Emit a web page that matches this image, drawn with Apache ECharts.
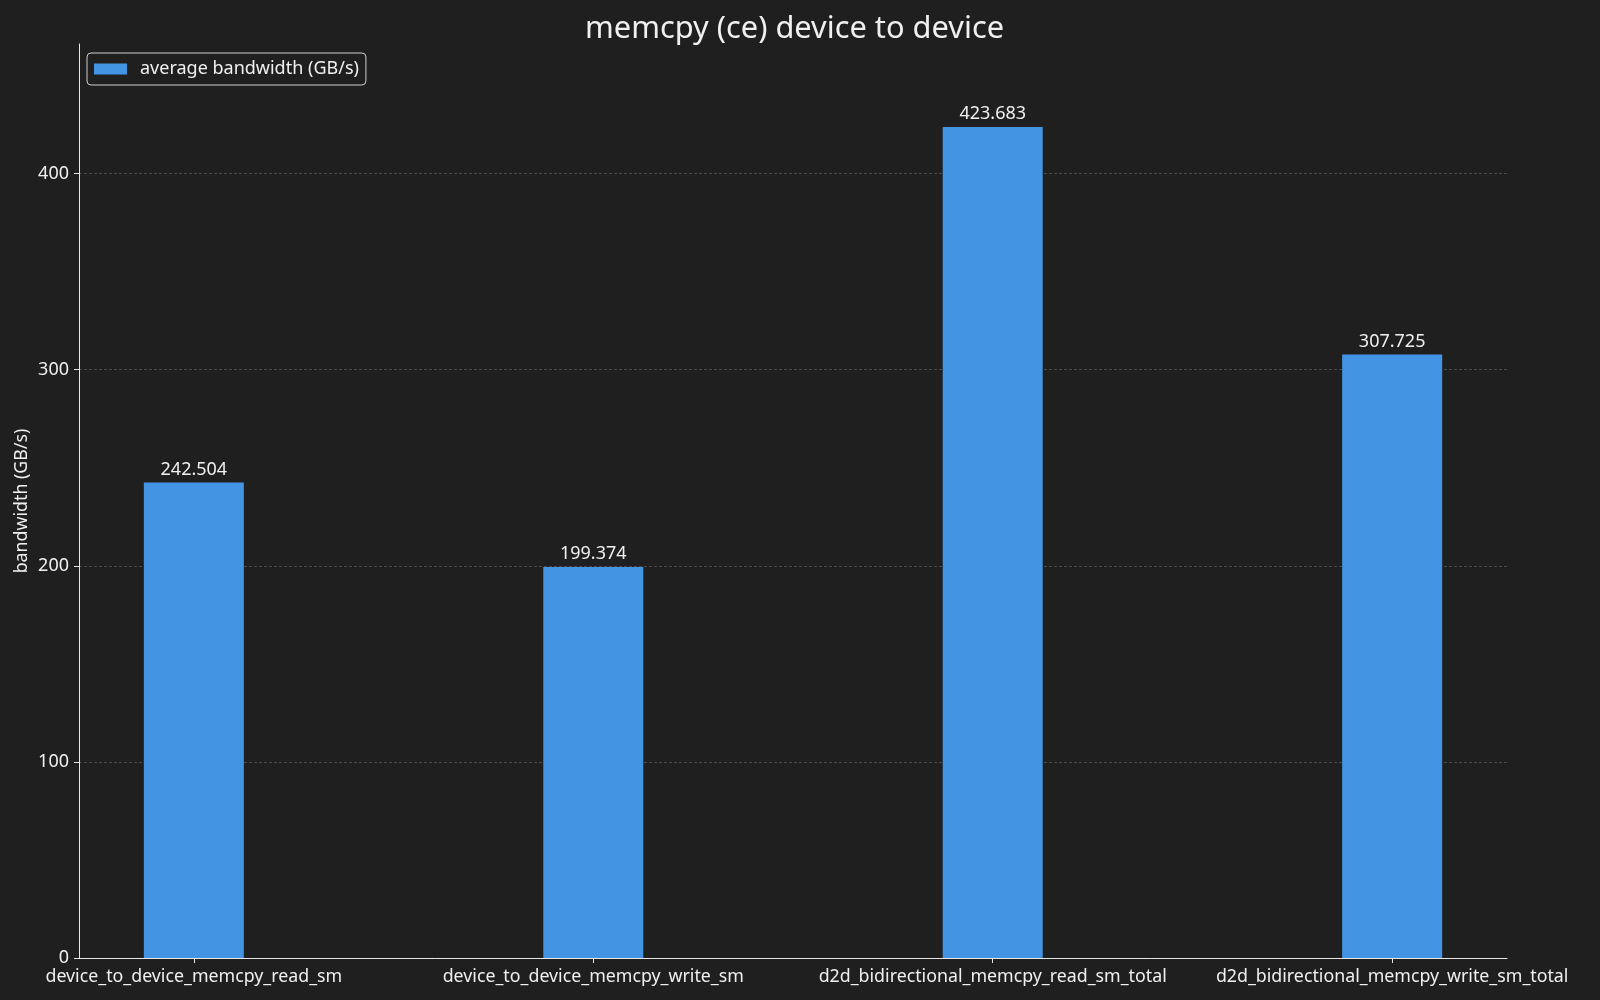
<!DOCTYPE html>
<html>
<head>
<meta charset="utf-8">
<script src="https://cdn.jsdelivr.net/npm/echarts@6/dist/echarts.min.js"></script>
<style>
html,body{margin:0;padding:0;background:#1f1f1f;}
#chart{width:1600px;height:1000px;}
</style>
</head>
<body>
<div id="chart"></div>
<script>
const categories = [
  "device_to_device_memcpy_read_sm",
  "device_to_device_memcpy_write_sm",
  "d2d_bidirectional_memcpy_read_sm_total",
  "d2d_bidirectional_memcpy_write_sm_total"
];
const bandwidth = [242.504, 199.374, 423.683, 307.725];
const yTicks = [0, 100, 200, 300, 400];
const xPositions = [0, 1, 2, 3];

const FONT = "Noto Sans";
const TXT = "#f0f0f0";
const yMax = Math.max(...bandwidth) * 1.1;

const chart = echarts.init(document.getElementById('chart'), null, {renderer: 'canvas'});
chart.setOption({
  backgroundColor: '#1f1f1f',
  animation: false,
  textStyle: {fontFamily: FONT},
  title: {
    text: 'memcpy (ce) device to device',
    left: 580, top: 9,
    textStyle: {color: TXT, fontSize: 30.8, fontWeight: 'normal', fontFamily: FONT}
  },
  legend: {
    left: 87, top: 53,
    orient: 'vertical',
    padding: [7, 7, 7, 7],
    itemWidth: 33, itemHeight: 11,
    borderColor: '#cfcfcf', borderWidth: 1, borderRadius: 4,
    backgroundColor: '#1f1f1f',
    textStyle: {color: TXT, fontSize: 18, fontFamily: FONT, padding: [0, 0, 0, 8]},
    data: [{name: 'average bandwidth (GB/s)', icon: 'rect'}]
  },
  grid: {left: 79, right: 93, top: 44, bottom: 42, containLabel: false},
  xAxis: {
    type: 'value',
    min: -0.2875, max: 3.2875,
    axisLine: {show: true, onZero: false, lineStyle: {color: '#e8e8e8', width: 1}},
    axisTick: {show: true, length: 5, customValues: xPositions, lineStyle: {color: '#e8e8e8'}},
    axisLabel: {
      show: true, customValues: xPositions, margin: 10,
      color: TXT, fontSize: 17.8, fontFamily: FONT,
      formatter: v => categories[Math.round(v)]
    },
    splitLine: {show: false}
  },
  yAxis: {
    type: 'value',
    min: 0, max: yMax, interval: 100,
    name: 'bandwidth (GB/s)',
    nameLocation: 'middle', nameRotate: 90, nameGap: 48, nameMoveOverlap: false,
    nameTextStyle: {color: TXT, fontSize: 17.8, fontFamily: FONT},
    axisLine: {show: true, onZero: false, lineStyle: {color: '#e8e8e8', width: 1}},
    axisTick: {show: true, length: 5, customValues: yTicks, lineStyle: {color: '#e8e8e8'}},
    axisLabel: {show: true, customValues: yTicks, margin: 10, color: TXT, fontSize: 18, fontFamily: FONT},
    splitLine: {show: true, showMinLine: false, lineStyle: {color: '#555555', type: [3, 2], width: 0.8}}
  },
  series: [{
    name: 'average bandwidth (GB/s)',
    type: 'bar',
    barWidth: 100,
    itemStyle: {color: '#4494e4'},
    label: {
      show: true, position: 'top', distance: 4,
      color: TXT, fontSize: 18, fontFamily: FONT,
      formatter: p => p.value[1].toFixed(3)
    },
    data: xPositions.map((x, i) => [x, bandwidth[i]])
  }]
});
</script>
</body>
</html>
